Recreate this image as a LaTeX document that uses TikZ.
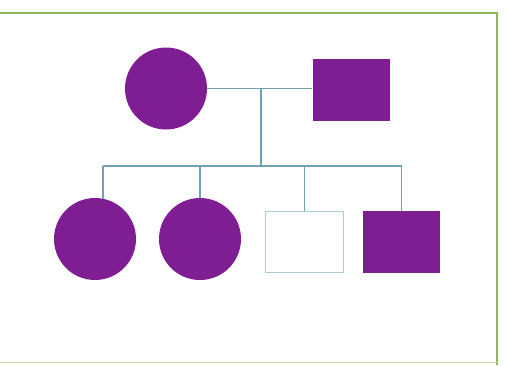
\documentclass[tikz,border=0pt]{standalone}
\definecolor{frame}{HTML}{8DB85A}
\definecolor{fam}{HTML}{7E1E92}
\definecolor{link}{HTML}{6FA3B3}
\definecolor{empty}{HTML}{A9CDD8}
\begin{document}
\begin{tikzpicture}[x=1pt,y=-1pt,
  female/.style={circle,fill=fam,draw=none,minimum size=82pt,inner sep=0pt},
  male/.style={rectangle,fill=fam,draw=none,minimum width=77pt,minimum height=62pt,inner sep=0pt},
  maleempty/.style={rectangle,fill=white,draw=empty,line width=1.2pt,minimum width=78pt,minimum height=61pt,inner sep=0pt},
  wire/.style={draw=link,line width=1.1pt}]
\useasboundingbox (0,0) rectangle (507,365);
\fill[white] (0,0) rectangle (507,365);
\draw[frame,line width=2.5pt] (0,13) -- (497,13) -- (497,365);
\draw[frame!50,line width=1pt] (0,362.5) -- (497,362.5);
% parents
\node[female] (mother) at (166,88.5) {};
\node[male] (father) at (351,90) {};
\coordinate (sib) at (261,166);
\draw[wire] (mother.east) -- (mother.east -| father.west);
\draw[wire] (mother.east -| sib) -- (sib);
% children
\node[female] (c1) at (95,239) {};
\node[female] (c2) at (200,239) {};
\node[maleempty] (c3) at (304.5,242) {};
\node[male] (c4) at (401.5,242) {};
\coordinate (s1) at (103,166);
\coordinate (s2) at (200,166);
\coordinate (s3) at (304.5,166);
\coordinate (s4) at (401.5,166);
\draw[wire] (s1) -- (s4);
\draw[wire] (s1) -- ([yshift=-1pt]s1 |- c1.north);
\draw[wire] (s2) -- (s2 |- c2.north);
\draw[wire] (s3) -- (s3 |- c3.north);
\draw[wire] (s4) -- (s4 |- c4.north);
\end{tikzpicture}
\end{document}
